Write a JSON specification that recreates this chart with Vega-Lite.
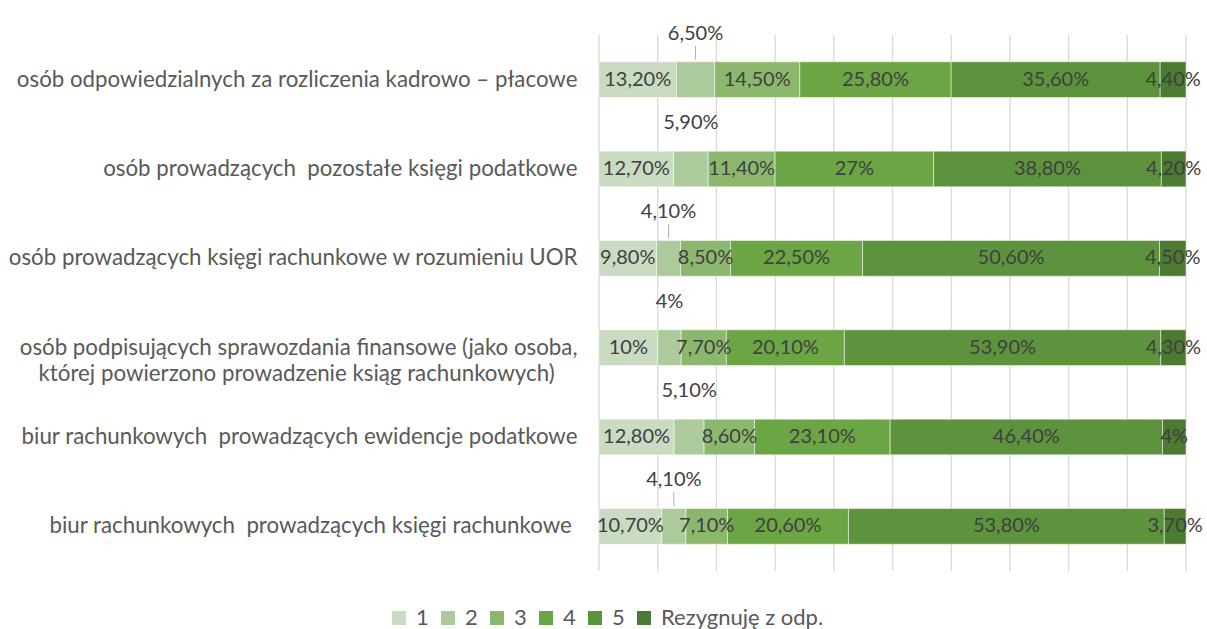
{
  "$schema": "https://vega.github.io/schema/vega-lite/v6.json",
  "width": 587,
  "height": 536,
  "autosize": "none",
  "padding": {"left": 599, "top": 35, "right": 21, "bottom": 58},
  "background": "white",
  "config": {
    "view": {"stroke": null},
    "font": "Lato",
    "text": {"font": "Lato"}
  },
  "datasets": {
    "grid": [{"g": 0}, {"g": 10}, {"g": 20}, {"g": 30}, {"g": 40}, {"g": 50}, {"g": 60}, {"g": 70}, {"g": 80}, {"g": 90}, {"g": 100}],
    "bars": [
      {"row": "osób odpowiedzialnych za rozliczenia kadrowo – płacowe", "cat": "1", "v": 13.2},
      {"row": "osób odpowiedzialnych za rozliczenia kadrowo – płacowe", "cat": "2", "v": 6.5},
      {"row": "osób odpowiedzialnych za rozliczenia kadrowo – płacowe", "cat": "3", "v": 14.5},
      {"row": "osób odpowiedzialnych za rozliczenia kadrowo – płacowe", "cat": "4", "v": 25.8},
      {"row": "osób odpowiedzialnych za rozliczenia kadrowo – płacowe", "cat": "5", "v": 35.6},
      {"row": "osób odpowiedzialnych za rozliczenia kadrowo – płacowe", "cat": "Rezygnuję z odp.", "v": 4.4},
      {"row": "osób prowadzących\u00a0 pozostałe księgi podatkowe", "cat": "1", "v": 12.7},
      {"row": "osób prowadzących\u00a0 pozostałe księgi podatkowe", "cat": "2", "v": 5.9},
      {"row": "osób prowadzących\u00a0 pozostałe księgi podatkowe", "cat": "3", "v": 11.4},
      {"row": "osób prowadzących\u00a0 pozostałe księgi podatkowe", "cat": "4", "v": 27},
      {"row": "osób prowadzących\u00a0 pozostałe księgi podatkowe", "cat": "5", "v": 38.8},
      {"row": "osób prowadzących\u00a0 pozostałe księgi podatkowe", "cat": "Rezygnuję z odp.", "v": 4.2},
      {"row": "osób prowadzących księgi rachunkowe w rozumieniu UOR", "cat": "1", "v": 9.8},
      {"row": "osób prowadzących księgi rachunkowe w rozumieniu UOR", "cat": "2", "v": 4.1},
      {"row": "osób prowadzących księgi rachunkowe w rozumieniu UOR", "cat": "3", "v": 8.5},
      {"row": "osób prowadzących księgi rachunkowe w rozumieniu UOR", "cat": "4", "v": 22.5},
      {"row": "osób prowadzących księgi rachunkowe w rozumieniu UOR", "cat": "5", "v": 50.6},
      {"row": "osób prowadzących księgi rachunkowe w rozumieniu UOR", "cat": "Rezygnuję z odp.", "v": 4.5},
      {"row": "osób podpisujących sprawozdania finansowe (jako osoba,\nktórej powierzono prowadzenie ksiąg rachunkowych)\u00a0\u00a0\u00a0\u00a0\u200b", "cat": "1", "v": 10},
      {"row": "osób podpisujących sprawozdania finansowe (jako osoba,\nktórej powierzono prowadzenie ksiąg rachunkowych)\u00a0\u00a0\u00a0\u00a0\u200b", "cat": "2", "v": 4},
      {"row": "osób podpisujących sprawozdania finansowe (jako osoba,\nktórej powierzono prowadzenie ksiąg rachunkowych)\u00a0\u00a0\u00a0\u00a0\u200b", "cat": "3", "v": 7.7},
      {"row": "osób podpisujących sprawozdania finansowe (jako osoba,\nktórej powierzono prowadzenie ksiąg rachunkowych)\u00a0\u00a0\u00a0\u00a0\u200b", "cat": "4", "v": 20.1},
      {"row": "osób podpisujących sprawozdania finansowe (jako osoba,\nktórej powierzono prowadzenie ksiąg rachunkowych)\u00a0\u00a0\u00a0\u00a0\u200b", "cat": "5", "v": 53.9},
      {"row": "osób podpisujących sprawozdania finansowe (jako osoba,\nktórej powierzono prowadzenie ksiąg rachunkowych)\u00a0\u00a0\u00a0\u00a0\u200b", "cat": "Rezygnuję z odp.", "v": 4.3},
      {"row": "biur rachunkowych\u00a0 prowadzących ewidencje podatkowe", "cat": "1", "v": 12.8},
      {"row": "biur rachunkowych\u00a0 prowadzących ewidencje podatkowe", "cat": "2", "v": 5.1},
      {"row": "biur rachunkowych\u00a0 prowadzących ewidencje podatkowe", "cat": "3", "v": 8.6},
      {"row": "biur rachunkowych\u00a0 prowadzących ewidencje podatkowe", "cat": "4", "v": 23.1},
      {"row": "biur rachunkowych\u00a0 prowadzących ewidencje podatkowe", "cat": "5", "v": 46.4},
      {"row": "biur rachunkowych\u00a0 prowadzących ewidencje podatkowe", "cat": "Rezygnuję z odp.", "v": 4},
      {"row": "biur rachunkowych\u00a0 prowadzących księgi rachunkowe\u00a0\u200b", "cat": "1", "v": 10.7},
      {"row": "biur rachunkowych\u00a0 prowadzących księgi rachunkowe\u00a0\u200b", "cat": "2", "v": 4.1},
      {"row": "biur rachunkowych\u00a0 prowadzących księgi rachunkowe\u00a0\u200b", "cat": "3", "v": 7.1},
      {"row": "biur rachunkowych\u00a0 prowadzących księgi rachunkowe\u00a0\u200b", "cat": "4", "v": 20.6},
      {"row": "biur rachunkowych\u00a0 prowadzących księgi rachunkowe\u00a0\u200b", "cat": "5", "v": 53.8},
      {"row": "biur rachunkowych\u00a0 prowadzących księgi rachunkowe\u00a0\u200b", "cat": "Rezygnuję z odp.", "v": 3.7}
    ]
  },
  "layer": [
    {
      "data": {"name": "grid"},
      "mark": {"type": "rule", "color": "#d9d9d9", "strokeWidth": 1.3},
      "encoding": {
        "x": {"field": "g", "type": "quantitative", "scale": {"domain": [0, 100], "nice": false}, "axis": null}
      }
    },
    {
      "data": {"name": "bars"},
      "transform": [
        {"stack": "v", "groupby": ["row"], "sort": [{"field": "cat"}], "as": ["x0", "x1"]},
        {"calculate": "(datum.x0 + datum.x1) / 2", "as": "xm"},
        {"calculate": "(datum.v % 1 == 0 ? format(datum.v, 'd') : replace(format(datum.v, '.2f'), '.', ',')) + '%'", "as": "lbl"}
      ],
      "encoding": {
        "y": {
          "field": "row",
          "type": "nominal",
          "sort": null,
          "scale": {"paddingInner": 0.6, "paddingOuter": 0.3},
          "axis": {
            "title": null,
            "ticks": false,
            "domain": false,
            "labelPadding": 22,
            "labelFontSize": 22.3,
            "labelFont": "Lato",
            "labelColor": "#595959",
            "labelLimit": 800,
            "labelLineHeight": 26,
            "labelExpr": "split(datum.label, '\\n')"
          }
        }
      },
      "layer": [
        {
          "mark": {"type": "bar", "stroke": "white", "strokeWidth": 0.5},
          "encoding": {
            "x": {"field": "x0", "type": "quantitative", "axis": null},
            "x2": {"field": "x1"},
            "color": {
              "field": "cat",
              "type": "nominal",
              "scale": {
                "domain": ["1", "2", "3", "4", "5", "Rezygnuję z odp."],
                "range": ["#c9dbc1", "#adca9d", "#8cb86e", "#6ba544", "#5d933c", "#4b7a30"]
              },
              "legend": {
                "title": null,
                "orient": "none",
                "direction": "horizontal",
                "legendX": -211,
                "legendY": 572,
                "symbolType": "square",
                "symbolSize": 196,
                "symbolStrokeWidth": 0,
                "labelFontSize": 22,
                "labelFont": "Lato",
                "labelColor": "#595959",
                "labelLimit": 300,
                "columnPadding": 8,
                "labelOffset": 6
              }
            }
          }
        },
        {
          "transform": [{"filter": "datum.cat != '2'"}],
          "mark": {"type": "text", "fontSize": 20, "color": "#404040", "font": "Lato"},
          "encoding": {
            "x": {"field": "xm", "type": "quantitative", "axis": null},
            "text": {"field": "lbl"}
          }
        },
        {
          "transform": [{"filter": "datum.cat == '2'"}],
          "mark": {"type": "text", "fontSize": 20, "color": "#404040", "font": "Lato", "yOffset": -46},
          "encoding": {
            "x": {"field": "xm", "type": "quantitative", "axis": null},
            "text": {"field": "lbl"}
          }
        },
        {
          "transform": [{"filter": "datum.cat == '2' && (datum.v == 6.5 || datum.v == 4.1)"}],
          "mark": {"type": "tick", "orient": "vertical", "color": "#8c8c8c", "thickness": 1, "size": 14, "yOffset": -27},
          "encoding": {
            "x": {"field": "xm", "type": "quantitative", "axis": null}
          }
        }
      ]
    }
  ]
}
